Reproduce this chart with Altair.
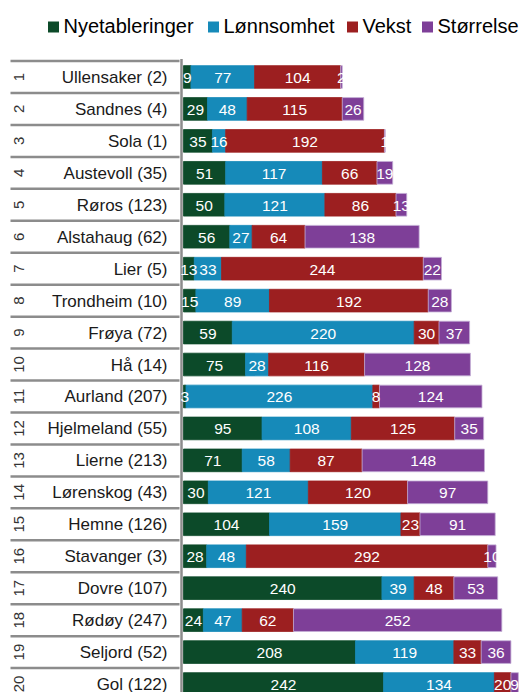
import altair as alt
import pandas as pd

ranks = list(range(1, 21))
names = ["Ullensaker (2)", "Sandnes (4)", "Sola (1)", "Austevoll (35)", "Røros (123)",
         "Alstahaug (62)", "Lier (5)", "Trondheim (10)", "Frøya (72)", "Hå (14)",
         "Aurland (207)", "Hjelmeland (55)", "Lierne (213)", "Lørenskog (43)", "Hemne (126)",
         "Stavanger (3)", "Dovre (107)", "Rødøy (247)", "Seljord (52)", "Gol (122)"]
categories = ["Nyetableringer", "Lønnsomhet", "Vekst", "Størrelse"]
nyetableringer = [9, 29, 35, 51, 50, 56, 13, 15, 59, 75, 3, 95, 71, 30, 104, 28, 240, 24, 208, 242]
lonnsomhet = [77, 48, 16, 117, 121, 27, 33, 89, 220, 28, 226, 108, 58, 121, 159, 48, 39, 47, 119, 134]
vekst = [104, 115, 192, 66, 86, 64, 244, 192, 30, 116, 8, 125, 87, 120, 23, 292, 48, 62, 33, 20]
storrelse = [2, 26, 1, 19, 13, 138, 22, 28, 37, 128, 124, 35, 148, 97, 91, 10, 53, 252, 36, 9]
colors = ["#0c4a29", "#168ab9", "#9c1f20", "#7e3f98"]
edge_colors = ["#0c4a29", "#168ab9", "#9c1f20", "#c4afd6"]

series = [nyetableringer, lonnsomhet, vekst, storrelse]
rows = []
for ci, (cat, vals) in enumerate(zip(categories, series)):
    for r, n, v in zip(ranks, names, vals):
        rows.append({"name": n, "rank": r, "category": cat, "order": ci, "value": v})
df = pd.DataFrame(rows)
rowdf = pd.DataFrame({"name": names, "rank": [str(r) for r in ranks]})

STEP = 31.95
H = 20 * STEP
W = 339
FONT = "Liberation Sans"

yscale = alt.Scale(paddingInner=0.29, paddingOuter=0.145)
yenc = alt.Y("name:N", sort=names, axis=None, scale=yscale)
xscale = alt.Scale(domain=[0, 410])

stacked = alt.Chart(df).transform_stack(
    stack="value", groupby=["name"], as_=["v0", "v1"],
    sort=[alt.SortField("order", order="ascending")]
).transform_calculate(mid="(datum.v0 + datum.v1) / 2")

# one legend per series so that entries pack like the original
legend_x = [-140, 20, 159, 234]
bar_layers = []
for cat, col, edge, lx in zip(categories, colors, edge_colors, legend_x):
    bar_layers.append(
        stacked.transform_filter(alt.datum.category == cat).mark_bar(
            stroke=edge, strokeWidth=0.8
        ).encode(
            x=alt.X("v0:Q", scale=xscale, axis=None),
            x2="v1:Q",
            y=yenc,
            color=alt.Color(
                "category:N",
                scale=alt.Scale(domain=[cat], range=[col]),
                title=None,
                legend=alt.Legend(
                    orient="none", legendX=lx, legendY=-44, direction="horizontal",
                    symbolType="square", symbolSize=121, symbolStrokeWidth=0,
                    symbolOpacity=1, labelFontSize=20, labelFont=FONT,
                    labelColor="#000000", labelOffset=0, padding=0,
                ),
            ),
        )
    )

labels = stacked.mark_text(color="white", fontSize=15.5, font=FONT, dy=1).encode(
    x=alt.X("mid:Q", scale=xscale, axis=None),
    y=yenc,
    text="value:Q",
)

name_text = alt.Chart(rowdf).mark_text(align="right", fontSize=17, font=FONT,
                                        color="#1a1a1a", dy=1).encode(
    x=alt.value(-16), y=yenc, text="name:N")

rank_text = alt.Chart(rowdf).mark_text(angle=270, fontSize=15, font=FONT,
                                        color="#333333").encode(
    x=alt.value(-165), y=yenc, text="rank:N")

seps = alt.Chart(rowdf).mark_rule(color="#8c8c8c", strokeWidth=2.5, yOffset=-4.6).encode(
    x=alt.value(-173), x2=alt.value(-4),
    y=alt.Y("name:N", sort=names, axis=None, scale=yscale, bandPosition=0))

vline = alt.Chart(pd.DataFrame({"a": [0]})).mark_rule(color="#8c8c8c", strokeWidth=2.5).encode(
    x=alt.value(-2), y=alt.value(-2), y2=alt.value(H))

chart = alt.layer(seps, vline, *bar_layers, labels, name_text, rank_text).resolve_scale(
    color="independent"
).properties(
    width=W, height=H,
    padding={"left": 175.5, "top": 53, "right": 0, "bottom": 4},
    autosize=alt.AutoSizeParams(type="none"),
    background="white",
).configure_view(stroke=None)

chart.save("out.html", embed_options={"renderer": "svg", "actions": False})
